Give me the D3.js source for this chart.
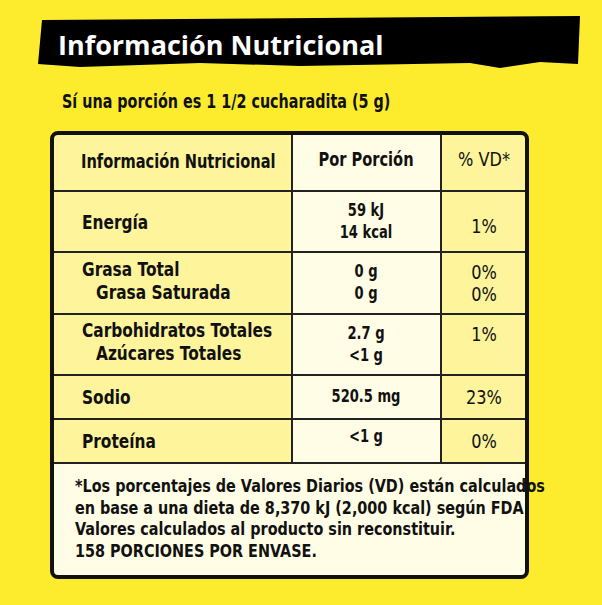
<!DOCTYPE html>
<html><head><meta charset="utf-8">
<script src="https://cdn.jsdelivr.net/npm/d3@7"></script>
<style>body{margin:0;background:#fcec2d}</style>
</head><body>
<div id="chart"></div>
<script>
// table content
var nutrients = [["Energía"], ["Grasa Total", "Grasa Saturada"], ["Carbohidratos Totales", "Azúcares Totales"], ["Sodio"], ["Proteína"]];
var amounts = [["59 kJ", "14 kcal"], ["0 g", "0 g"], ["2.7 g", "<1 g"], ["520.5 mg"], ["<1 g"]];
var dailyValues = [["1%"], ["0%", "0%"], ["1%"], ["23%"], ["0%"]];
var headers = ["Información Nutricional", "Por Porción", "% VD*"];
var footnote = ["*Los porcentajes de Valores Diarios (VD) están calculados",
    "en base a una dieta de  8,370 kJ (2,000 kcal) según FDA.",
    "Valores calculados al producto sin reconstituir.",
    "158 PORCIONES POR ENVASE."];

var W = 602, H = 605;
var font = "'DejaVu Sans', sans-serif";
var svg = d3.select("#chart").append("svg").attr("width", W).attr("height", H);
svg.append("rect").attr("width", W).attr("height", H).attr("fill", "#fcec2d");

// title banner
svg.append("path")
    .attr("d", "M42,20 L580,16 L578,64 L540,62 L500,68 L470,63 L300,66 L200,63 L80,67 L38,64 Z")
    .attr("fill", "#000");
svg.append("text").attr("x", 58).attr("y", 55).text("Información Nutricional")
    .attr("font-family", "'Open Sans', sans-serif").attr("font-weight", 700)
    .attr("font-size", 27).attr("fill", "#fff");

// condensed text: squeeze horizontally since no narrow font is installed
function txt(px, py, s, size, anchor, weight, sx) {
    svg.append("text").attr("transform", "translate(" + px + "," + py + ") scale(" + (sx || 0.77) + ",1)")
        .text(s)
        .attr("font-family", font).attr("font-weight", weight || 700)
        .attr("font-size", size).attr("text-anchor", anchor || "start").attr("fill", "#111");
}

txt(62, 108, "Sí una porción es 1 1/2 cucharadita (5 g)", 19, "start", 700, 0.755);

var x = d3.scaleOrdinal().domain([0, 1, 2, 3]).range([52, 292, 441, 527]);
var rowEdges = [133, 191, 252, 314, 375, 419, 463];
var rowY = d3.scaleOrdinal().domain(d3.range(7)).range(rowEdges);
var colFill = ["#fdf49c", "#fffde6", "#fdf49c"];

// columns
[0, 1, 2].forEach(function(c) {
    svg.append("rect").attr("x", x(c)).attr("y", 133).attr("width", x(c + 1) - x(c))
        .attr("height", 463 - 133).attr("fill", colFill[c]);
});
svg.append("rect").attr("x", 52).attr("y", 463).attr("width", 475).attr("height", 114).attr("fill", "#fffde6");

// grid lines
rowEdges.slice(1).forEach(function(y) {
    svg.append("line").attr("x1", 52).attr("x2", 527).attr("y1", y).attr("y2", y)
        .attr("stroke", "#222").attr("stroke-width", 2);
});
[1, 2].forEach(function(c) {
    svg.append("line").attr("x1", x(c)).attr("x2", x(c)).attr("y1", 133).attr("y2", 463)
        .attr("stroke", "#222").attr("stroke-width", 2);
});
svg.append("rect").attr("x", 52).attr("y", 133).attr("width", 475).attr("height", 444)
    .attr("rx", 6).attr("fill", "none").attr("stroke", "#111").attr("stroke-width", 4);

// header
txt(81, 168, headers[0], 19);
txt(366, 166, headers[1], 19, "middle");
txt(484, 166, headers[2], 19, "middle", 400, 0.85);

// body rows
nutrients.forEach(function(lines, i) {
    var top = rowY(i + 1), bot = rowY(i + 2), mid = (top + bot) / 2;
    var n = lines.length;
    lines.forEach(function(s, j) {
        var yy = n === 1 ? mid + 7 : mid - 3 + (j - 0.5) * 23 + 7;
        txt(j === 0 ? 82 : 96, yy, s, 20);
    });
    amounts[i].forEach(function(s, j) {
        var m = amounts[i].length;
        var yy = m === 1 ? mid + 5 - (i === 4 ? 4 : 0) : mid + (j - 0.5) * 22 + 5;
        txt(366, yy, s, 17, "middle");
    });
    dailyValues[i].forEach(function(s, j) {
        var yy;
        if (dailyValues[i].length === 2) yy = mid + (j - 0.5) * 22 + 7;
        else if (n === 2) yy = mid - 4;
        else yy = mid + (i === 0 ? 11 : 7);
        txt(484, yy, s, 19, "middle", 400, 0.85);
    });
});

footnote.forEach(function(s, i) {
    txt(75, 492 + i * 21.5, s, 18, "start", 700, 0.8);
});
</script>
</body></html>
